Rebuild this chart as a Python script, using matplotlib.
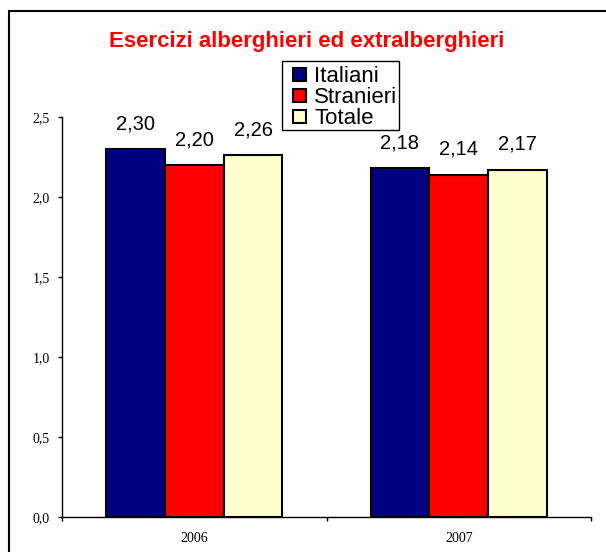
import numpy as np
import matplotlib
matplotlib.use('Agg')
import matplotlib.pyplot as plt
from matplotlib.patches import Rectangle
from matplotlib.ticker import FuncFormatter, FixedLocator

# ── Data ──────────────────────────────────────────────────────────────────────
years    = ['2006', '2007']
series   = ['Italiani', 'Stranieri', 'Totale']
italiani = [2.30, 2.18]
stranieri = [2.20, 2.14]
totale   = [2.26, 2.17]
colors   = ['#000080', '#FF0000', '#FFFFCC']

values = [italiani, stranieri, totale]

SANS  = ['Liberation Sans', 'Arial', 'DejaVu Sans']
SERIF = ['Liberation Serif', 'Times New Roman', 'DejaVu Serif']

W, H = 606, 552
fig = plt.figure(figsize=(W/100, H/100), dpi=100)
ax = fig.add_axes([62/W, 1 - 517/H, (591 - 62)/W, (517 - 117)/H])

x = np.arange(len(years))
w = 2/3 / len(series)

for i, (name, vals, col) in enumerate(zip(series, values, colors)):
    pos = x - 1/3 + w/2 + i*w
    bars = ax.bar(pos, vals, w, color=col, edgecolor='black', linewidth=1.5,
                  label=name)
    for bar, v in zip(bars, vals):
        ax.annotate(f'{v:.2f}'.replace('.', ','),
                    (bar.get_x() + bar.get_width()/2, bar.get_height()),
                    xytext=(0, 14.4), textcoords='offset points',
                    ha='center', va='baseline', fontsize=14.5, family=SANS)

ax.set_xlim(-0.5, len(years) - 0.5)
ax.set_ylim(0, 2.5)
ax.set_yticks(np.arange(0, 2.51, 0.5))
ax.yaxis.set_major_formatter(FuncFormatter(lambda v, p: f'{v:.1f}'.replace('.', ',')))

ax.set_xticks(x)
ax.set_xticklabels(years)
ax.xaxis.set_minor_locator(FixedLocator([-0.5, 0.5, 1.5]))
ax.tick_params(axis='x', which='major', length=0, pad=11)
ax.tick_params(axis='x', which='minor', length=3, direction='out', width=1)
ax.tick_params(axis='y', length=3, direction='out', width=1, pad=6)
for lab in ax.get_xticklabels() + ax.get_yticklabels():
    lab.set_family(SERIF)
    lab.set_fontsize(10)

ax.spines['top'].set_visible(False)
ax.spines['right'].set_visible(False)
for s in ('left', 'bottom'):
    ax.spines[s].set_linewidth(1)

# legend entries without their own frame; box drawn separately
fig.legend(loc='upper left', bbox_to_anchor=(290/W, 1 - 63/H),
           prop={'family': SANS, 'size': 16}, frameon=False,
           handlelength=0.55, handleheight=0.55,
           handletextpad=0.4, labelspacing=0.0, borderpad=0.15,
           borderaxespad=0)
fig.patches.append(Rectangle((282/W, 1 - 130/H), (399 - 282)/W, (130 - 61)/H,
                             transform=fig.transFigure, facecolor='white',
                             edgecolor='black', linewidth=1, zorder=0))

fig.text(307/W, 1 - 47/H, 'Esercizi alberghieri ed extralberghieri',
         ha='center', va='baseline', color='#FF0000', fontsize=16,
         fontweight='bold', family=SANS)

# outer chart frame
fig.patches.append(Rectangle((9/W, -0.1), 1.2, 1.1 - 11/H,
                             transform=fig.transFigure, fill=False,
                             edgecolor='black', linewidth=1.5, clip_on=False))

fig.savefig('out.png', dpi=100)
